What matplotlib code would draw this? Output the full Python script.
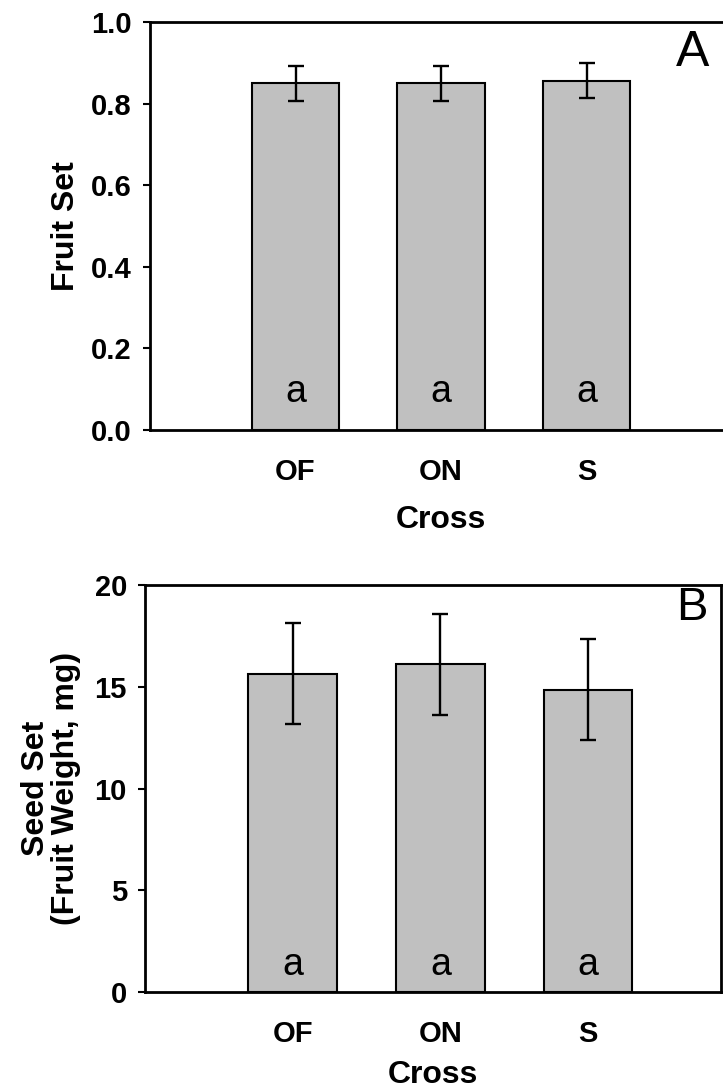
import numpy as np
import matplotlib
matplotlib.use("Agg")
import matplotlib.pyplot as plt

plt.rcParams["font.family"] = ["Liberation Sans", "DejaVu Sans"]

# ── data ──────────────────────────────────────────
crosses = ["OF", "ON", "S"]
fruit_set = [0.850, 0.850, 0.856]
fruit_err = [0.043, 0.043, 0.043]
seed_set = [15.65, 16.10, 14.85]
seed_err = [2.48, 2.48, 2.48]
sig_letters = ["a", "a", "a"]

BAR_COLOR = "#c0c0c0"

fig = plt.figure(figsize=(7.23, 10.91), dpi=100)


def draw_panel(ax, values, errs, ylim, yticks, ylabel, ylabelpad, xlabelpad,
               letter_y, panel, panel_xy, panel_size, xmax):
    x = np.arange(1, len(values) + 1)
    ax.bar(x, values, width=0.6, color=BAR_COLOR, edgecolor="black",
           linewidth=1.5, zorder=2)
    ax.errorbar(x, values, yerr=errs, fmt="none", ecolor="black",
                elinewidth=1.7, capsize=5.5, capthick=1.7, zorder=3)
    for xi, lab in zip(x, sig_letters):
        ax.text(xi, letter_y, lab, ha="center", va="center", fontsize=27, zorder=4)
    ax.text(panel_xy[0], panel_xy[1], panel, ha="center", va="center",
            fontsize=panel_size)

    ax.set_xlim(0, xmax)
    ax.set_ylim(*ylim)
    ax.set_yticks(yticks)
    ax.set_xticks(x)
    ax.set_xticklabels(crosses, fontsize=21, fontweight="bold")
    ax.tick_params(axis="x", length=0, pad=20)
    ax.tick_params(axis="y", direction="out", length=5, width=1.5, pad=8,
                   labelsize=21)
    for lab in ax.get_yticklabels():
        lab.set_fontweight("bold")
    for sp in ax.spines.values():
        sp.set_linewidth(2)
    ax.set_xlabel("Cross", fontsize=23, fontweight="bold", labelpad=xlabelpad)
    ax.set_ylabel(ylabel, fontsize=23, fontweight="bold", labelpad=ylabelpad,
                  linespacing=1.0)


# ── panel A ───────────────────────────────────────
axA = fig.add_axes([150 / 723, 1 - 430 / 1091, 582 / 723, 408 / 1091])
draw_panel(axA, fruit_set, fruit_err, (0, 1.0),
           [0.0, 0.2, 0.4, 0.6, 0.8, 1.0], "Fruit Set", 7, 14, 0.093, "A",
           (3.73, 0.925), 36, 4.0)
axA.set_yticklabels(["0.0", "0.2", "0.4", "0.6", "0.8", "1.0"])

# ── panel B ───────────────────────────────────────
axB = fig.add_axes([145 / 723, 1 - 992 / 1091, 576 / 723, 407 / 1091])
draw_panel(axB, seed_set, seed_err, (0, 20), [0, 5, 10, 15, 20],
           "Seed Set\n(Fruit Weight, mg)", 10, 9, 1.33, "B", (3.7, 18.85), 34, 3.9)

fig.savefig("out.png", dpi=100)
